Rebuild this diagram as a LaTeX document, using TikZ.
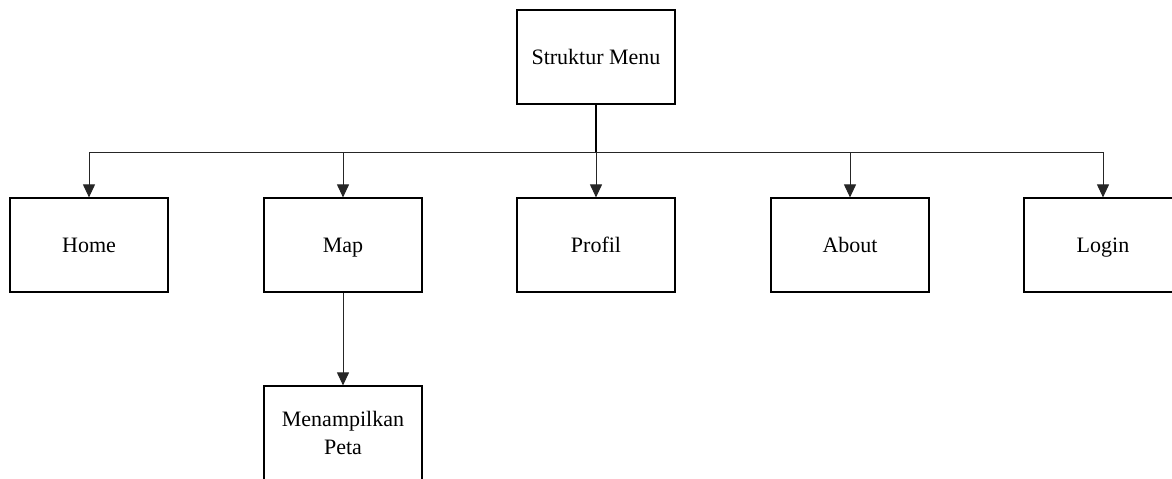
\documentclass[tikz,border=0pt]{standalone}
\usepackage{fontspec}
\setmainfont{Liberation Serif}
\usetikzlibrary{arrows.meta}
\begin{document}
\begin{tikzpicture}[x=0.5pt,y=-0.5pt,
  menubox/.style={draw=black,line width=0.6pt,minimum width=79pt,minimum height=47pt,
    inner sep=0pt,align=center,font=\fontsize{11}{14}\selectfont},
  oneline/.style={menubox,text height=8.5pt,text depth=1.5pt},
  link/.style={draw=black!85,line width=0.5pt},
  arrowlink/.style={link,-{Triangle[length=6.5pt,width=6pt]}}]
  \useasboundingbox (0,0) rectangle (1172,478);
  \clip (0,0) rectangle (1172,478);
  % root and first level menus
  \node[oneline] (root) at (596,57) {Struktur Menu};
  \node[oneline] (home) at (89,245) {Home};
  \node[oneline] (map) at (343,245) {Map};
  \node[oneline] (profil) at (596,245) {Profil};
  \node[oneline] (about) at (850,245) {About};
  \node[oneline] (login) at (1103,245) {Login};
  % sub menu of Map
  \node[menubox] (peta) at (343,433) {Menampilkan\\Peta};
  % distribution bus
  \coordinate (bus) at (596,152);
  \draw[line width=1pt] (root.south) -- (bus);
  \draw[link] (bus) -- (home.north |- bus) (bus) -- (login.north |- bus);
  \draw[arrowlink] (bus) -| (home.north);
  \draw[arrowlink] (bus) -| (map.north);
  \draw[arrowlink] (bus) -- (profil.north);
  \draw[arrowlink] (bus) -| (about.north);
  \draw[arrowlink] (bus) -| (login.north);
  \draw[arrowlink] (map.south) -- (peta.north);
\end{tikzpicture}
\end{document}
